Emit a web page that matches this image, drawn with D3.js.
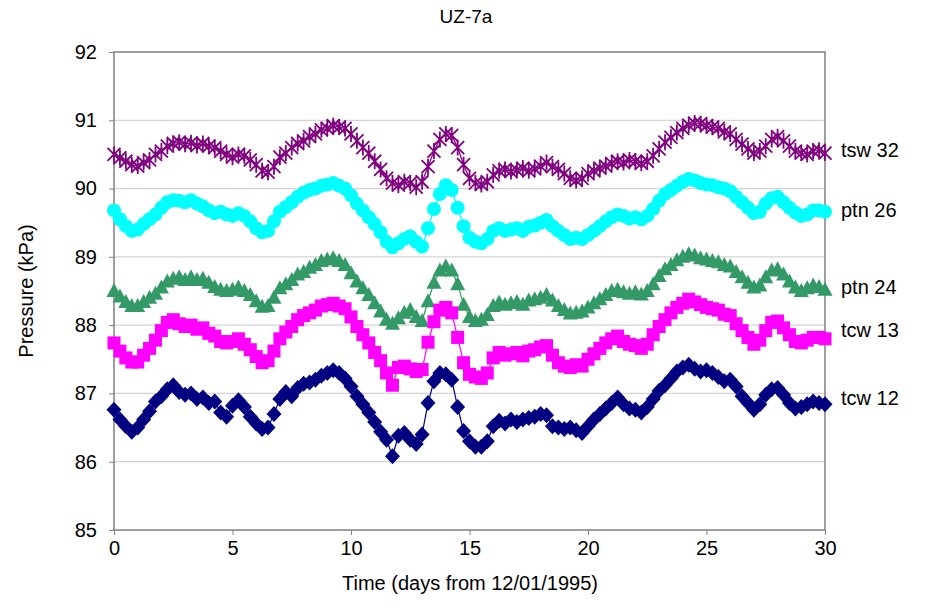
<!DOCTYPE html>
<html><head><meta charset="utf-8">
<script src="https://cdn.jsdelivr.net/npm/d3@7"></script>
<style>body{margin:0;background:#fff}svg{display:block}text{font-family:"Liberation Sans",Arial,sans-serif;fill:#000}</style>
</head><body><svg id="c" width="925" height="611"></svg>
<script>
const title = "UZ-7a";
const xTicks = [0,5,10,15,20,25,30];
const yTicks = [85,86,87,88,89,90,91,92];
const seriesNames = ["tsw 32","ptn 26","ptn 24","tcw 13","tcw 12"];
const days = d3.range(0, 30.001, 0.25);
const tsw32 = [
90.50,90.45,90.40,90.35, 90.33,90.38,90.42,90.50, 90.55,90.62,90.66,90.68, 90.65,90.67,90.63,90.66,
90.62,90.60,90.55,90.50, 90.46,90.50,90.48,90.42, 90.35,90.26,90.24,90.32, 90.46,90.52,90.60,90.66,
90.70,90.76,90.80,90.86, 90.88,90.92,90.90,90.88, 90.80,90.70,90.60,90.52, 90.40,90.28,90.15,90.08,
90.05,90.10,90.08,90.02, 90.10,90.32,90.55,90.72, 90.80,90.78,90.60,90.35, 90.15,90.08,90.06,90.10,
90.20,90.26,90.28,90.25, 90.27,90.30,90.26,90.29, 90.33,90.38,90.32,90.28, 90.22,90.15,90.12,90.15,
90.22,90.26,90.30,90.33, 90.37,90.40,90.38,90.42, 90.40,90.37,90.40,90.48, 90.58,90.68,90.75,90.82,
90.88,90.93,90.96,90.95, 90.92,90.90,90.88,90.83, 90.80,90.72,90.65,90.58, 90.52,90.55,90.62,90.72,
90.76,90.70,90.62,90.55, 90.52,90.50,90.55,90.56, 90.52];
const ptn26 = [
89.68,89.55,89.45,89.38, 89.40,89.48,89.55,89.62, 89.72,89.80,89.83,89.82, 89.80,89.83,89.78,89.74,
89.68,89.64,89.66,89.62, 89.60,89.64,89.60,89.52, 89.42,89.36,89.38,89.52, 89.66,89.73,89.80,89.88,
89.94,89.98,90.00,90.04, 90.06,90.08,90.04,90.00, 89.90,89.78,89.68,89.58, 89.48,89.36,89.22,89.14,
89.20,89.26,89.30,89.22, 89.15,89.42,89.70,89.92, 90.05,89.98,89.72,89.45, 89.28,89.22,89.20,89.26,
89.38,89.42,89.38,89.40, 89.42,89.38,89.44,89.46, 89.50,89.54,89.45,89.38, 89.32,89.26,89.28,89.26,
89.32,89.38,89.45,89.52, 89.58,89.62,89.60,89.56, 89.58,89.55,89.60,89.70, 89.82,89.92,89.98,90.04,
90.10,90.14,90.12,90.08, 90.06,90.05,90.02,90.00, 89.96,89.88,89.80,89.72, 89.64,89.66,89.78,89.86,
89.88,89.80,89.72,89.65, 89.60,89.62,89.68,89.68, 89.66];
const ptn24 = [
88.50,88.42,88.34,88.28, 88.28,88.34,88.40,88.46, 88.55,88.64,88.68,88.70, 88.66,88.70,88.66,88.68,
88.62,88.56,88.52,88.50, 88.52,88.55,88.50,88.44, 88.35,88.27,88.28,88.40, 88.54,88.60,88.66,88.74,
88.78,88.84,88.88,88.94, 88.96,88.98,88.94,88.88, 88.76,88.64,88.54,88.44, 88.32,88.20,88.08,88.02,
88.10,88.18,88.22,88.12, 88.06,88.35,88.62,88.80, 88.86,88.80,88.60,88.30, 88.12,88.06,88.08,88.15,
88.28,88.33,88.30,88.32, 88.34,88.30,88.36,88.38, 88.40,88.44,88.36,88.28, 88.22,88.17,88.18,88.20,
88.26,88.32,88.38,88.44, 88.50,88.52,88.48,88.46, 88.48,88.45,88.50,88.60, 88.72,88.82,88.88,88.95,
89.00,89.04,89.02,88.98, 88.96,88.94,88.92,88.88, 88.86,88.78,88.70,88.62, 88.55,88.58,88.70,88.80,
88.82,88.74,88.64,88.55, 88.50,88.54,88.58,88.56, 88.52];
const tcw13 = [
87.74,87.62,87.52,87.46, 87.46,87.56,87.66,87.78, 87.92,88.04,88.08,88.02, 87.98,88.00,87.94,87.96,
87.88,87.84,87.76,87.74, 87.76,87.80,87.72,87.64, 87.54,87.45,87.48,87.62, 87.80,87.90,87.98,88.08,
88.14,88.18,88.22,88.28, 88.30,88.32,88.28,88.24, 88.12,87.98,87.86,87.74, 87.60,87.48,87.30,87.12,
87.38,87.40,87.36,87.32, 87.35,87.75,88.05,88.22, 88.26,88.18,87.82,87.45, 87.28,87.24,87.22,87.30,
87.52,87.60,87.56,87.58, 87.60,87.55,87.62,87.64, 87.68,87.70,87.56,87.45, 87.40,87.38,87.42,87.40,
87.50,87.58,87.66,87.74, 87.80,87.84,87.76,87.72, 87.70,87.66,87.72,87.86, 87.98,88.08,88.18,88.26,
88.32,88.38,88.34,88.30, 88.26,88.24,88.22,88.16, 88.14,88.02,87.92,87.82, 87.72,87.78,87.92,88.04,
88.06,87.96,87.86,87.76, 87.74,87.78,87.82,87.82, 87.80];
const tcw12 = [
86.76,86.62,86.52,86.44, 86.50,86.62,86.74,86.88, 86.96,87.06,87.12,87.02, 86.98,87.00,86.92,86.94,
86.86,86.88,86.72,86.66, 86.82,86.90,86.80,86.66, 86.56,86.48,86.50,86.70, 86.92,87.02,86.96,87.08,
87.14,87.16,87.20,87.26, 87.30,87.34,87.30,87.22, 87.10,86.96,86.84,86.72, 86.58,86.44,86.32,86.08,
86.38,86.42,86.32,86.26, 86.40,86.86,87.18,87.30, 87.28,87.20,86.80,86.45, 86.30,86.22,86.22,86.30,
86.52,86.60,86.56,86.62, 86.58,86.62,86.64,86.66, 86.70,86.68,86.52,86.50, 86.48,86.50,86.46,86.42,
86.52,86.62,86.70,86.78, 86.86,86.94,86.84,86.78, 86.76,86.72,86.80,86.92, 87.04,87.12,87.22,87.32,
87.38,87.42,87.36,87.32, 87.34,87.30,87.24,87.18, 87.20,87.10,86.96,86.86, 86.76,86.84,86.98,87.06,
87.08,86.98,86.86,86.78, 86.80,86.84,86.88,86.86, 86.84];
const seriesValues = [tsw32, ptn26, ptn24, tcw13, tcw12];
const colors = ["#800080","#00FFFF","#339966","#FF00FF","#000080"];
const labelY = [150, 210, 287, 330, 398];

const svg = d3.select("#c");
const L = 114, R = 825, T = 52, B = 530;
const x = d3.scaleLinear().domain([0,30]).range([L,R]);
const y = d3.scaleLinear().domain([85,92]).range([B,T]);

// gridlines
svg.append("g").selectAll("line").data(yTicks.slice(1,-1)).join("line")
  .attr("x1",L).attr("x2",R).attr("y1",d=>y(d)).attr("y2",d=>y(d))
  .attr("stroke","#d4d4d4").attr("stroke-width",1.2);

// border
svg.append("rect").attr("x",L).attr("y",T).attr("width",R-L).attr("height",B-T)
  .attr("fill","none").attr("stroke","#808080").attr("stroke-width",1.5);

// axes
const xAxis = svg.append("g").attr("transform",`translate(0,${B})`)
  .call(d3.axisBottom(x).tickValues(xTicks).tickFormat(d3.format("d")).tickSize(5).tickPadding(6));
const yAxis = svg.append("g").attr("transform",`translate(${L},0)`)
  .call(d3.axisLeft(y).tickValues(yTicks).tickFormat(d3.format("d")).tickSize(5).tickPadding(12));
[xAxis,yAxis].forEach(a=>{
  a.select(".domain").remove();
  a.selectAll("line").attr("stroke","#808080");
  a.selectAll("text").attr("font-size",20).attr("font-family","Liberation Sans, Arial, sans-serif").attr("fill","#000");
});

// series
const line = d3.line().x((d,i)=>x(days[i])).y(d=>y(d));
seriesValues.forEach((vals,k)=>{
  const g = svg.append("g");
  g.append("path").datum(vals).attr("d",line).attr("fill","none")
    .attr("stroke",colors[k]).attr("stroke-width",1.2);
  const pts = g.selectAll("g").data(vals).join("g")
    .attr("transform",(d,i)=>`translate(${x(days[i])},${y(d)})`);
  if (k===0) {
    const s = 6.5;
    pts.append("path").attr("d",`M${-s},${-s}L${s},${s}M${-s},${s}L${s},${-s}M0,${-s-1.5}L0,${s+1.5}`)
      .attr("stroke",colors[k]).attr("stroke-width",1.8).attr("fill","none");
  } else if (k===1) {
    pts.append("circle").attr("r",7).attr("fill",colors[k]);
  } else if (k===2) {
    pts.append("path").attr("d","M0,-8L7.5,6L-7.5,6Z").attr("fill",colors[k]);
  } else if (k===3) {
    pts.append("rect").attr("x",-6.5).attr("y",-6.5).attr("width",13).attr("height",13).attr("fill",colors[k]);
  } else {
    pts.append("path").attr("d","M0,-8L7.5,0L0,8L-7.5,0Z").attr("fill",colors[k]);
  }
  svg.append("text").attr("x",841).attr("y",labelY[k]).attr("dy","0.35em")
    .attr("font-size",20).text(seriesNames[k]);
});

// titles
svg.append("text").attr("x",466).attr("y",23).attr("text-anchor","middle").attr("font-size",19).text(title);
svg.append("text").attr("x",470).attr("y",590).attr("text-anchor","middle").attr("font-size",20).text("Time (days from 12/01/1995)");
svg.append("text").attr("transform","translate(33,291) rotate(-90)").attr("text-anchor","middle").attr("font-size",20).text("Pressure (kPa)");
</script></body></html>
